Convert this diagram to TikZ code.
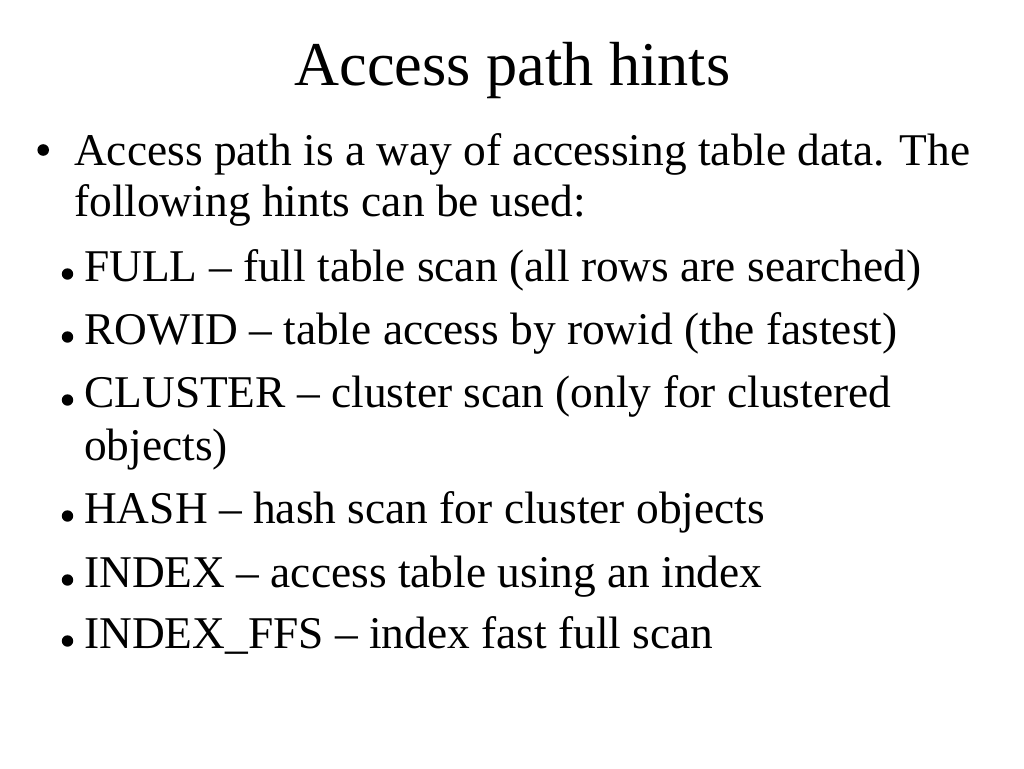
\documentclass[tikz,border=0pt]{standalone}
\usepackage{fontspec}
\setmainfont{Liberation Serif}
\begin{document}
\begin{tikzpicture}[x=1pt,y=-1pt,
  titletext/.style={anchor=base,inner sep=0pt,font=\fontsize{62.3}{62.3}\selectfont},
  bodytext/.style={anchor=base west,inner sep=0pt,font=\fontsize{45.4}{45.4}\selectfont},
  mainbullet/.style={fill=black},
  subbullet/.style={fill=black}]
\useasboundingbox[fill=white] (0,0) rectangle (1024,768);
\node[titletext] (title) at (512.5,85) {Access path hints};
\fill[mainbullet] (43.2,150) circle (5.8);
\node[bodytext] (m1) at (74,165.5) {Access path is a way of accessing table data. The};
\node[bodytext] (m2) at (74,216.5) {following hints can be used:};
\foreach \y/\n/\t in {281/s1/{FULL – full table scan (all rows are searched)},
                      344/s2/{ROWID – table access by rowid (the fastest)},
                      407/s3/{CLUSTER – cluster scan (only for clustered},
                      523/s5/{HASH – hash scan for cluster objects},
                      587/s6/{INDEX – access table using an index},
                      648/s7/{INDEX\_FFS – index fast full scan}}{
  \fill[subbullet] (67.5,\y-7) circle (5.7);
  \node[bodytext] (\n) at (84,\y) {\t};
}
\node[bodytext] (s4) at (84,460) {objects)};
\end{tikzpicture}
\end{document}
